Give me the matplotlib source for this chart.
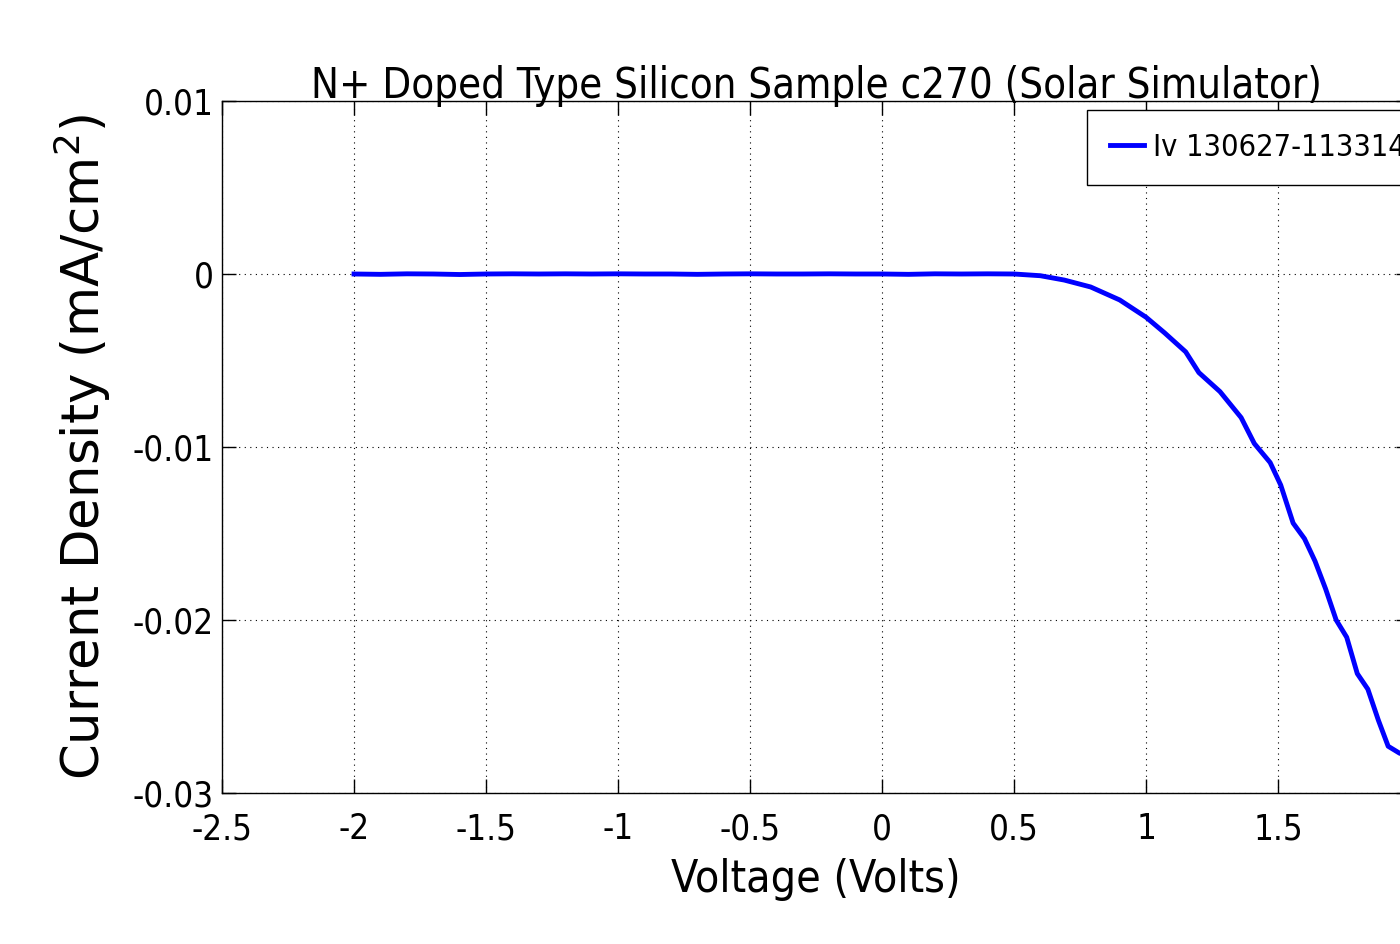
import numpy as np
import matplotlib.pyplot as plt
from matplotlib.ticker import FixedLocator, FixedFormatter

voltage = [-2.0, -1.9, -1.8, -1.7, -1.6, -1.5, -1.4, -1.3, -1.2, -1.1, -1.0,
           -0.9, -0.8, -0.7, -0.6, -0.5, -0.4, -0.3, -0.2, -0.1, 0.0,
           0.1, 0.2, 0.3, 0.4, 0.5, 0.6, 0.69, 0.79, 0.9, 1.0, 1.07, 1.15,
           1.2, 1.28, 1.36, 1.41, 1.47, 1.51, 1.557, 1.6, 1.64, 1.68, 1.72,
           1.76, 1.8, 1.84, 1.88, 1.917, 1.96, 2.0]
current = [0.0, -0.00002, 0.00001, 0.0, -0.00003, 0.0, 0.00001, 0.0, 0.00001,
           0.0, 0.00001, 0.0, 0.0, -0.00002, 0.0, 0.00001, 0.0, 0.0, 0.00001,
           0.0, 0.0, -0.00002, 0.00001, 0.0, 0.00001, 0.0, -0.0001, -0.00035,
           -0.00075, -0.0015, -0.0025, -0.0034, -0.0045, -0.0057, -0.0068,
           -0.0083, -0.0098, -0.0109, -0.0122, -0.0144, -0.0153, -0.0166,
           -0.0182, -0.0200, -0.0210, -0.0231, -0.0240, -0.0258, -0.0273,
           -0.0277, -0.0279]

# the "2" tick sits just past the right edge of the figure in the reference
xticks = [-2.5, -2, -1.5, -1, -0.5, 0, 0.5, 1, 1.5]
xticklabels = ['-2.5', '-2', '-1.5', '-1', '-0.5', '0', '0.5', '1', '1.5']
yticks = [-0.03, -0.02, -0.01, 0, 0.01]
yticklabels = ['-0.03', '-0.02', '-0.01', '0', '0.01']

narrow = dict(family='DejaVu Sans', stretch='condensed')

fig = plt.figure(figsize=(14, 9.44), dpi=100)
ax = fig.add_axes([0.1586, 0.16, 0.8486, 0.733])

ax.plot(voltage, current, color='#0000ff', linewidth=3.5, label='Iv 130627-113314.txt')

ax.set_xlim(-2.5, 2.0)
ax.set_ylim(-0.03, 0.01)
ax.xaxis.set_major_locator(FixedLocator(xticks))
ax.xaxis.set_major_formatter(FixedFormatter(xticklabels))
ax.yaxis.set_major_locator(FixedLocator(yticks))
ax.yaxis.set_major_formatter(FixedFormatter(yticklabels))
ax.tick_params(direction='in', length=10, width=1, top=True, right=True)
ax.tick_params(axis='x', pad=14)
ax.tick_params(axis='y', pad=6)
for lab in ax.get_xticklabels() + ax.get_yticklabels():
    lab.set_fontsize(25)
    lab.set_fontstretch('condensed')
ax.grid(True, color='black', linestyle=(0, (1, 4)), linewidth=0.8)
for s in ax.spines.values():
    s.set_linewidth(1)

ax.set_title('N+ Doped Type Silicon Sample c270 (Solar Simulator)', fontsize=30, pad=2, **narrow)
ax.set_xlabel('Voltage (Volts)', fontsize=32, labelpad=8, **narrow)
ax.set_ylabel('Current Density (mA/cm$^2$)', fontsize=37, labelpad=14, family='DejaVu Sans')

leg = ax.legend(loc='upper left', bbox_to_anchor=(1087 / 1400, 1 - 110 / 944),
                bbox_transform=fig.transFigure, fancybox=False, edgecolor='black',
                framealpha=1, handlelength=1.1, handletextpad=0.3, borderpad=0.75,
                borderaxespad=0,
                prop=dict(size=22, family='DejaVu Sans', stretch='condensed'))
leg.get_frame().set_linewidth(1)

fig.savefig('out.png', dpi=100)
